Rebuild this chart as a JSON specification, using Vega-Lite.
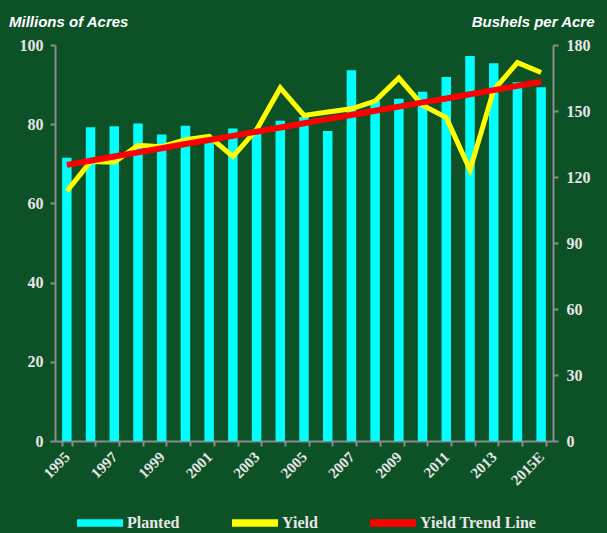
{
  "$schema": "https://vega.github.io/schema/vega-lite/v6.json",
  "width": 498,
  "height": 396,
  "autosize": {"type": "none"},
  "padding": {"left": 55, "top": 45, "right": 54, "bottom": 92},
  "background": "#0d5127",
  "config": {
    "view": {"stroke": null},
    "axis": {"grid": false}
  },
  "data": {
    "values": [
      {"year": "1995", "planted": 71.5, "yield": 113.5, "trend": 125.5},
      {"year": "1996", "planted": 79.2, "yield": 127.0, "trend": 127.4},
      {"year": "1997", "planted": 79.5, "yield": 126.7, "trend": 129.3},
      {"year": "1998", "planted": 80.2, "yield": 134.4, "trend": 131.2},
      {"year": "1999", "planted": 77.4, "yield": 133.8, "trend": 133.1},
      {"year": "2000", "planted": 79.6, "yield": 137.0, "trend": 135.0},
      {"year": "2001", "planted": 75.7, "yield": 138.5, "trend": 136.8},
      {"year": "2002", "planted": 78.9, "yield": 129.3, "trend": 138.7},
      {"year": "2003", "planted": 78.6, "yield": 141.5, "trend": 140.6},
      {"year": "2004", "planted": 80.9, "yield": 160.5, "trend": 142.5},
      {"year": "2005", "planted": 81.8, "yield": 148.0, "trend": 144.4},
      {"year": "2006", "planted": 78.3, "yield": 149.5, "trend": 146.3},
      {"year": "2007", "planted": 93.6, "yield": 151.0, "trend": 148.2},
      {"year": "2008", "planted": 85.9, "yield": 154.5, "trend": 150.1},
      {"year": "2009", "planted": 86.4, "yield": 165.0, "trend": 152.0},
      {"year": "2010", "planted": 88.2, "yield": 152.6, "trend": 153.9},
      {"year": "2011", "planted": 91.9, "yield": 147.0, "trend": 155.7},
      {"year": "2012", "planted": 97.2, "yield": 123.2, "trend": 157.6},
      {"year": "2013", "planted": 95.4, "yield": 159.5, "trend": 159.5},
      {"year": "2014", "planted": 90.6, "yield": 172.0, "trend": 161.4},
      {"year": "2015E", "planted": 89.3, "yield": 167.5, "trend": 163.3}
    ]
  },
  "encoding": {
    "x": {
      "field": "year", "type": "nominal", "sort": null,
      "scale": {"paddingInner": 0.6, "paddingOuter": 0.3},
      "axis": {
        "title": null,
        "labelExpr": "indexof(['1995','1997','1999','2001','2003','2005','2007','2009','2011','2013','2015E'], datum.value) >= 0 ? datum.value : ''",
        "labelAngle": -45, "labelAlign": "right", "labelBaseline": "middle",
        "labelFont": "Liberation Serif", "labelFontWeight": "bold", "labelFontSize": 15,
        "labelColor": "#e6e6e6", "labelPadding": 8, "labelOverlap": false, "labelBound": false,
        "tickBand": "extent", "tickSize": 5, "tickColor": "#8c8c8c", "tickWidth": 2,
        "domainColor": "#8c8c8c", "domainWidth": 2
      }
    }
  },
  "layer": [
    {
      "mark": {"type": "bar", "color": "#00ffff"},
      "encoding": {
        "y": {
          "field": "planted", "type": "quantitative",
          "scale": {"domain": [0, 100]},
          "axis": {
            "values": [0, 20, 40, 60, 80, 100],
            "title": "Millions of Acres", "titleAngle": 0, "titleX": -46.5, "titleY": -19,
            "titleAlign": "left", "titleBaseline": "alphabetic",
            "titleFont": "Liberation Sans", "titleFontStyle": "italic", "titleFontWeight": "bold",
            "titleFontSize": 15, "titleColor": "#ffffff",
            "labelFont": "Liberation Serif", "labelFontWeight": "bold", "labelFontSize": 16,
            "labelColor": "#e6e6e6", "labelPadding": 7,
            "tickSize": 5, "tickColor": "#8c8c8c", "tickWidth": 2,
            "domainColor": "#8c8c8c", "domainWidth": 2
          }
        },
        "color": {
          "datum": "Planted",
          "scale": {"domain": ["Planted", "Yield", "Yield Trend Line"], "range": ["#00ffff", "#ffff00", "#ff0000"]},
          "legend": {
            "title": null, "orient": "none", "direction": "horizontal",
            "legendX": 22, "legendY": 455, "padding": 0,
            "symbolType": "M-1,-0.16H1V0.16H-1Z", "symbolSize": 2116,
            "labelFont": "Liberation Serif", "labelFontWeight": "bold", "labelFontSize": 16,
            "labelColor": "#e6e6e6", "labelOffset": 4, "columnPadding": 52,
            "encode": {
              "symbols": {
                "update": {
                  "fill": {"scale": "color", "field": "value"},
                  "stroke": {"value": "transparent"},
                  "strokeWidth": {"value": 0},
                  "opacity": {"value": 1},
                  "shape": {"value": "M-1,-0.16H1V0.16H-1Z"},
                  "size": {"value": 2116}
                }
              }
            }
          }
        }
      }
    },
    {
      "encoding": {
        "y": {
          "field": "yield", "type": "quantitative",
          "scale": {"domain": [0, 180]},
          "axis": {
            "orient": "right",
            "values": [0, 30, 60, 90, 120, 150, 180],
            "title": "Bushels per Acre", "titleAngle": 0, "titleX": 41, "titleY": -19,
            "titleAlign": "right", "titleBaseline": "alphabetic",
            "titleFont": "Liberation Sans", "titleFontStyle": "italic", "titleFontWeight": "bold",
            "titleFontSize": 15, "titleColor": "#ffffff",
            "labelFont": "Liberation Serif", "labelFontWeight": "bold", "labelFontSize": 16,
            "labelColor": "#e6e6e6", "labelPadding": 8,
            "tickSize": 5, "tickColor": "#8c8c8c", "tickWidth": 2,
            "domainColor": "#8c8c8c", "domainWidth": 2
          }
        }
      },
      "layer": [
        {
          "mark": {"type": "line", "strokeWidth": 5, "strokeJoin": "miter"},
          "encoding": {"color": {"datum": "Yield"}}
        },
        {
          "mark": {"type": "line", "strokeWidth": 6},
          "encoding": {
            "y": {"field": "trend", "type": "quantitative"},
            "color": {"datum": "Yield Trend Line"}
          }
        }
      ]
    }
  ],
  "resolve": {"scale": {"y": "independent"}}
}
